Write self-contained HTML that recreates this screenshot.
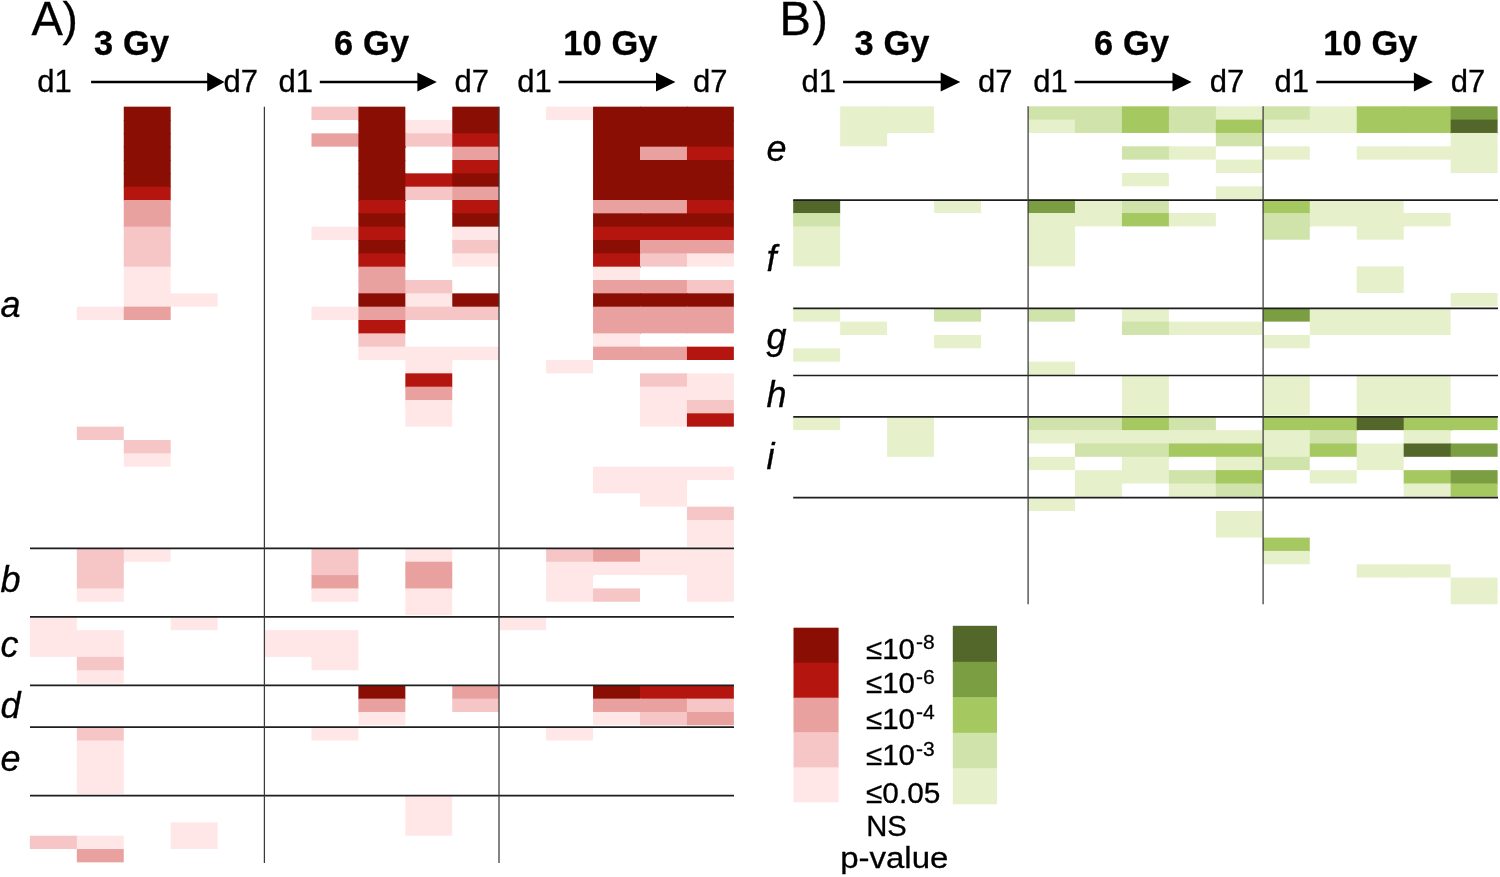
<!DOCTYPE html>
<html><head><meta charset="utf-8"><title>Figure</title>
<style>
html,body{margin:0;padding:0;background:#fff;}
svg{display:block;will-change:transform;font-family:"Liberation Sans",sans-serif;fill:#000;}
text{stroke:#000;stroke-width:0.3px;}
</style></head><body>
<svg width="1500" height="877" viewBox="0 0 1500 877" shape-rendering="auto">
<rect x="0" y="0" width="1500" height="877" fill="#ffffff"/>
<rect x="123.76" y="106.67" width="46.93" height="14.13" fill="#8b0e04"/>
<rect x="311.48" y="106.67" width="47.73" height="13.33" fill="#f5c6c5"/>
<rect x="358.41" y="106.67" width="46.93" height="14.13" fill="#8b0e04"/>
<rect x="452.27" y="106.67" width="46.93" height="14.13" fill="#8b0e04"/>
<rect x="546.13" y="106.67" width="47.73" height="13.33" fill="#fee7e6"/>
<rect x="593.06" y="106.67" width="47.73" height="14.13" fill="#8b0e04"/>
<rect x="639.99" y="106.67" width="47.73" height="14.13" fill="#8b0e04"/>
<rect x="686.92" y="106.67" width="46.93" height="14.13" fill="#8b0e04"/>
<rect x="123.76" y="120.00" width="46.93" height="14.13" fill="#8b0e04"/>
<rect x="358.41" y="120.00" width="47.73" height="14.13" fill="#8b0e04"/>
<rect x="405.34" y="120.00" width="47.73" height="14.13" fill="#fee7e6"/>
<rect x="452.27" y="120.00" width="46.93" height="14.13" fill="#8b0e04"/>
<rect x="593.06" y="120.00" width="47.73" height="14.13" fill="#8b0e04"/>
<rect x="639.99" y="120.00" width="47.73" height="14.13" fill="#8b0e04"/>
<rect x="686.92" y="120.00" width="46.93" height="14.13" fill="#8b0e04"/>
<rect x="123.76" y="133.34" width="46.93" height="14.13" fill="#8b0e04"/>
<rect x="311.48" y="133.34" width="47.73" height="13.33" fill="#e9a1a0"/>
<rect x="358.41" y="133.34" width="47.73" height="14.13" fill="#8b0e04"/>
<rect x="405.34" y="133.34" width="47.73" height="13.33" fill="#f5c6c5"/>
<rect x="452.27" y="133.34" width="46.93" height="14.13" fill="#b4160f"/>
<rect x="593.06" y="133.34" width="47.73" height="14.13" fill="#8b0e04"/>
<rect x="639.99" y="133.34" width="47.73" height="14.13" fill="#8b0e04"/>
<rect x="686.92" y="133.34" width="46.93" height="14.13" fill="#8b0e04"/>
<rect x="123.76" y="146.67" width="46.93" height="14.13" fill="#8b0e04"/>
<rect x="358.41" y="146.67" width="46.93" height="14.13" fill="#8b0e04"/>
<rect x="452.27" y="146.67" width="46.93" height="14.13" fill="#e9a1a0"/>
<rect x="593.06" y="146.67" width="47.73" height="14.13" fill="#8b0e04"/>
<rect x="639.99" y="146.67" width="47.73" height="14.13" fill="#e9a1a0"/>
<rect x="686.92" y="146.67" width="46.93" height="14.13" fill="#b4160f"/>
<rect x="123.76" y="160.00" width="46.93" height="14.13" fill="#8b0e04"/>
<rect x="358.41" y="160.00" width="46.93" height="14.13" fill="#8b0e04"/>
<rect x="452.27" y="160.00" width="46.93" height="14.13" fill="#b4160f"/>
<rect x="593.06" y="160.00" width="47.73" height="14.13" fill="#8b0e04"/>
<rect x="639.99" y="160.00" width="47.73" height="14.13" fill="#8b0e04"/>
<rect x="686.92" y="160.00" width="46.93" height="14.13" fill="#8b0e04"/>
<rect x="123.76" y="173.34" width="46.93" height="14.13" fill="#8b0e04"/>
<rect x="358.41" y="173.34" width="47.73" height="14.13" fill="#8b0e04"/>
<rect x="405.34" y="173.34" width="47.73" height="14.13" fill="#b4160f"/>
<rect x="452.27" y="173.34" width="46.93" height="14.13" fill="#8b0e04"/>
<rect x="593.06" y="173.34" width="47.73" height="14.13" fill="#8b0e04"/>
<rect x="639.99" y="173.34" width="47.73" height="14.13" fill="#8b0e04"/>
<rect x="686.92" y="173.34" width="46.93" height="14.13" fill="#8b0e04"/>
<rect x="123.76" y="186.67" width="46.93" height="14.13" fill="#b4160f"/>
<rect x="358.41" y="186.67" width="47.73" height="14.13" fill="#8b0e04"/>
<rect x="405.34" y="186.67" width="47.73" height="13.33" fill="#f5c6c5"/>
<rect x="452.27" y="186.67" width="46.93" height="14.13" fill="#e9a1a0"/>
<rect x="593.06" y="186.67" width="47.73" height="14.13" fill="#8b0e04"/>
<rect x="639.99" y="186.67" width="47.73" height="14.13" fill="#8b0e04"/>
<rect x="686.92" y="186.67" width="46.93" height="14.13" fill="#8b0e04"/>
<rect x="123.76" y="200.00" width="46.93" height="14.13" fill="#e9a1a0"/>
<rect x="358.41" y="200.00" width="46.93" height="14.13" fill="#b4160f"/>
<rect x="452.27" y="200.00" width="46.93" height="14.13" fill="#b4160f"/>
<rect x="593.06" y="200.00" width="47.73" height="14.13" fill="#e9a1a0"/>
<rect x="639.99" y="200.00" width="47.73" height="14.13" fill="#e9a1a0"/>
<rect x="686.92" y="200.00" width="46.93" height="14.13" fill="#b4160f"/>
<rect x="123.76" y="213.34" width="46.93" height="14.13" fill="#e9a1a0"/>
<rect x="358.41" y="213.34" width="46.93" height="14.13" fill="#8b0e04"/>
<rect x="452.27" y="213.34" width="46.93" height="14.13" fill="#8b0e04"/>
<rect x="593.06" y="213.34" width="47.73" height="14.13" fill="#8b0e04"/>
<rect x="639.99" y="213.34" width="47.73" height="14.13" fill="#8b0e04"/>
<rect x="686.92" y="213.34" width="46.93" height="14.13" fill="#8b0e04"/>
<rect x="123.76" y="226.67" width="46.93" height="14.13" fill="#f5c6c5"/>
<rect x="311.48" y="226.67" width="47.73" height="13.33" fill="#fee7e6"/>
<rect x="358.41" y="226.67" width="46.93" height="14.13" fill="#b4160f"/>
<rect x="452.27" y="226.67" width="46.93" height="14.13" fill="#fee7e6"/>
<rect x="593.06" y="226.67" width="47.73" height="14.13" fill="#b4160f"/>
<rect x="639.99" y="226.67" width="47.73" height="14.13" fill="#b4160f"/>
<rect x="686.92" y="226.67" width="46.93" height="14.13" fill="#b4160f"/>
<rect x="123.76" y="240.00" width="46.93" height="14.13" fill="#f5c6c5"/>
<rect x="358.41" y="240.00" width="46.93" height="14.13" fill="#8b0e04"/>
<rect x="452.27" y="240.00" width="46.93" height="14.13" fill="#f5c6c5"/>
<rect x="593.06" y="240.00" width="47.73" height="14.13" fill="#8b0e04"/>
<rect x="639.99" y="240.00" width="47.73" height="14.13" fill="#e9a1a0"/>
<rect x="686.92" y="240.00" width="46.93" height="14.13" fill="#e9a1a0"/>
<rect x="123.76" y="253.34" width="46.93" height="14.13" fill="#f5c6c5"/>
<rect x="358.41" y="253.34" width="46.93" height="14.13" fill="#b4160f"/>
<rect x="452.27" y="253.34" width="46.93" height="13.33" fill="#fee7e6"/>
<rect x="593.06" y="253.34" width="47.73" height="14.13" fill="#b4160f"/>
<rect x="639.99" y="253.34" width="47.73" height="13.33" fill="#f5c6c5"/>
<rect x="686.92" y="253.34" width="46.93" height="13.33" fill="#fee7e6"/>
<rect x="123.76" y="266.67" width="46.93" height="14.13" fill="#fee7e6"/>
<rect x="358.41" y="266.67" width="46.93" height="14.13" fill="#e9a1a0"/>
<rect x="593.06" y="266.67" width="46.93" height="14.13" fill="#fee7e6"/>
<rect x="123.76" y="280.00" width="46.93" height="14.13" fill="#fee7e6"/>
<rect x="358.41" y="280.00" width="47.73" height="14.13" fill="#e9a1a0"/>
<rect x="405.34" y="280.00" width="46.93" height="14.13" fill="#f5c6c5"/>
<rect x="593.06" y="280.00" width="47.73" height="14.13" fill="#e9a1a0"/>
<rect x="639.99" y="280.00" width="47.73" height="14.13" fill="#e9a1a0"/>
<rect x="686.92" y="280.00" width="46.93" height="14.13" fill="#f5c6c5"/>
<rect x="123.76" y="293.34" width="47.73" height="14.13" fill="#fee7e6"/>
<rect x="170.69" y="293.34" width="46.93" height="13.33" fill="#fee7e6"/>
<rect x="358.41" y="293.34" width="47.73" height="14.13" fill="#8b0e04"/>
<rect x="405.34" y="293.34" width="47.73" height="14.13" fill="#fee7e6"/>
<rect x="452.27" y="293.34" width="46.93" height="14.13" fill="#8b0e04"/>
<rect x="593.06" y="293.34" width="47.73" height="14.13" fill="#8b0e04"/>
<rect x="639.99" y="293.34" width="47.73" height="14.13" fill="#8b0e04"/>
<rect x="686.92" y="293.34" width="46.93" height="14.13" fill="#8b0e04"/>
<rect x="76.83" y="306.67" width="47.73" height="13.33" fill="#fee7e6"/>
<rect x="123.76" y="306.67" width="46.93" height="13.33" fill="#e9a1a0"/>
<rect x="311.48" y="306.67" width="47.73" height="13.33" fill="#fee7e6"/>
<rect x="358.41" y="306.67" width="47.73" height="14.13" fill="#e9a1a0"/>
<rect x="405.34" y="306.67" width="47.73" height="13.33" fill="#f5c6c5"/>
<rect x="452.27" y="306.67" width="46.93" height="13.33" fill="#f5c6c5"/>
<rect x="593.06" y="306.67" width="47.73" height="14.13" fill="#e9a1a0"/>
<rect x="639.99" y="306.67" width="47.73" height="14.13" fill="#e9a1a0"/>
<rect x="686.92" y="306.67" width="46.93" height="14.13" fill="#e9a1a0"/>
<rect x="358.41" y="320.00" width="46.93" height="14.13" fill="#b4160f"/>
<rect x="593.06" y="320.00" width="47.73" height="14.13" fill="#e9a1a0"/>
<rect x="639.99" y="320.00" width="47.73" height="13.33" fill="#e9a1a0"/>
<rect x="686.92" y="320.00" width="46.93" height="13.33" fill="#e9a1a0"/>
<rect x="358.41" y="333.34" width="46.93" height="14.13" fill="#f5c6c5"/>
<rect x="593.06" y="333.34" width="46.93" height="14.13" fill="#fee7e6"/>
<rect x="358.41" y="346.67" width="47.73" height="13.33" fill="#fee7e6"/>
<rect x="405.34" y="346.67" width="47.73" height="14.13" fill="#fee7e6"/>
<rect x="452.27" y="346.67" width="46.93" height="13.33" fill="#fee7e6"/>
<rect x="593.06" y="346.67" width="47.73" height="13.33" fill="#e9a1a0"/>
<rect x="639.99" y="346.67" width="47.73" height="13.33" fill="#e9a1a0"/>
<rect x="686.92" y="346.67" width="46.93" height="13.33" fill="#b4160f"/>
<rect x="405.34" y="360.00" width="46.93" height="14.13" fill="#fee7e6"/>
<rect x="546.13" y="360.00" width="46.93" height="13.33" fill="#fee7e6"/>
<rect x="405.34" y="373.34" width="46.93" height="14.13" fill="#b4160f"/>
<rect x="639.99" y="373.34" width="47.73" height="14.13" fill="#f5c6c5"/>
<rect x="686.92" y="373.34" width="46.93" height="14.13" fill="#fee7e6"/>
<rect x="405.34" y="386.67" width="46.93" height="14.13" fill="#e9a1a0"/>
<rect x="639.99" y="386.67" width="47.73" height="14.13" fill="#fee7e6"/>
<rect x="686.92" y="386.67" width="46.93" height="14.13" fill="#fee7e6"/>
<rect x="405.34" y="400.00" width="46.93" height="14.13" fill="#fee7e6"/>
<rect x="639.99" y="400.00" width="47.73" height="14.13" fill="#fee7e6"/>
<rect x="686.92" y="400.00" width="46.93" height="14.13" fill="#f5c6c5"/>
<rect x="405.34" y="413.34" width="46.93" height="13.33" fill="#fee7e6"/>
<rect x="639.99" y="413.34" width="47.73" height="13.33" fill="#fee7e6"/>
<rect x="686.92" y="413.34" width="46.93" height="13.33" fill="#b4160f"/>
<rect x="76.83" y="426.67" width="46.93" height="13.33" fill="#f5c6c5"/>
<rect x="123.76" y="440.00" width="46.93" height="14.13" fill="#f5c6c5"/>
<rect x="123.76" y="453.34" width="46.93" height="13.33" fill="#fee7e6"/>
<rect x="593.06" y="466.67" width="47.73" height="14.13" fill="#fee7e6"/>
<rect x="639.99" y="466.67" width="47.73" height="14.13" fill="#fee7e6"/>
<rect x="686.92" y="466.67" width="46.93" height="13.33" fill="#fee7e6"/>
<rect x="593.06" y="480.00" width="47.73" height="13.33" fill="#fee7e6"/>
<rect x="639.99" y="480.00" width="46.93" height="14.13" fill="#fee7e6"/>
<rect x="639.99" y="493.34" width="46.93" height="13.33" fill="#fee7e6"/>
<rect x="686.92" y="506.67" width="46.93" height="14.13" fill="#f5c6c5"/>
<rect x="686.92" y="520.00" width="46.93" height="14.13" fill="#fee7e6"/>
<rect x="686.92" y="533.34" width="46.93" height="13.33" fill="#fee7e6"/>
<rect x="76.83" y="548.40" width="47.73" height="14.13" fill="#f5c6c5"/>
<rect x="123.76" y="548.40" width="46.93" height="13.33" fill="#fee7e6"/>
<rect x="311.48" y="548.40" width="46.93" height="14.13" fill="#f5c6c5"/>
<rect x="405.34" y="548.40" width="46.93" height="14.13" fill="#fee7e6"/>
<rect x="546.13" y="548.40" width="47.73" height="14.13" fill="#f5c6c5"/>
<rect x="593.06" y="548.40" width="47.73" height="14.13" fill="#e9a1a0"/>
<rect x="639.99" y="548.40" width="47.73" height="14.13" fill="#fee7e6"/>
<rect x="686.92" y="548.40" width="46.93" height="14.13" fill="#fee7e6"/>
<rect x="76.83" y="561.73" width="46.93" height="14.13" fill="#f5c6c5"/>
<rect x="311.48" y="561.73" width="46.93" height="14.13" fill="#f5c6c5"/>
<rect x="405.34" y="561.73" width="46.93" height="14.13" fill="#e9a1a0"/>
<rect x="546.13" y="561.73" width="47.73" height="14.13" fill="#fee7e6"/>
<rect x="593.06" y="561.73" width="47.73" height="13.33" fill="#fee7e6"/>
<rect x="639.99" y="561.73" width="47.73" height="13.33" fill="#fee7e6"/>
<rect x="686.92" y="561.73" width="46.93" height="14.13" fill="#fee7e6"/>
<rect x="76.83" y="575.07" width="46.93" height="14.13" fill="#f5c6c5"/>
<rect x="311.48" y="575.07" width="46.93" height="14.13" fill="#e9a1a0"/>
<rect x="405.34" y="575.07" width="46.93" height="14.13" fill="#e9a1a0"/>
<rect x="546.13" y="575.07" width="46.93" height="14.13" fill="#fee7e6"/>
<rect x="686.92" y="575.07" width="46.93" height="14.13" fill="#fee7e6"/>
<rect x="76.83" y="588.40" width="46.93" height="13.33" fill="#fee7e6"/>
<rect x="311.48" y="588.40" width="46.93" height="13.33" fill="#fee7e6"/>
<rect x="405.34" y="588.40" width="46.93" height="14.13" fill="#fee7e6"/>
<rect x="546.13" y="588.40" width="47.73" height="13.33" fill="#fee7e6"/>
<rect x="593.06" y="588.40" width="46.93" height="13.33" fill="#f5c6c5"/>
<rect x="686.92" y="588.40" width="46.93" height="13.33" fill="#fee7e6"/>
<rect x="405.34" y="601.73" width="46.93" height="13.33" fill="#fee7e6"/>
<rect x="29.90" y="616.90" width="46.93" height="14.13" fill="#fee7e6"/>
<rect x="170.69" y="616.90" width="46.93" height="13.33" fill="#fee7e6"/>
<rect x="499.20" y="616.90" width="46.93" height="13.33" fill="#fee7e6"/>
<rect x="29.90" y="630.23" width="47.73" height="14.13" fill="#fee7e6"/>
<rect x="76.83" y="630.23" width="46.93" height="14.13" fill="#fee7e6"/>
<rect x="264.55" y="630.23" width="47.73" height="14.13" fill="#fee7e6"/>
<rect x="311.48" y="630.23" width="46.93" height="14.13" fill="#fee7e6"/>
<rect x="29.90" y="643.57" width="47.73" height="13.33" fill="#fee7e6"/>
<rect x="76.83" y="643.57" width="46.93" height="14.13" fill="#fee7e6"/>
<rect x="264.55" y="643.57" width="47.73" height="13.33" fill="#fee7e6"/>
<rect x="311.48" y="643.57" width="46.93" height="14.13" fill="#fee7e6"/>
<rect x="76.83" y="656.90" width="46.93" height="14.13" fill="#f5c6c5"/>
<rect x="311.48" y="656.90" width="46.93" height="13.33" fill="#fee7e6"/>
<rect x="76.83" y="670.23" width="46.93" height="13.33" fill="#fee7e6"/>
<rect x="358.41" y="685.30" width="46.93" height="14.13" fill="#8b0e04"/>
<rect x="452.27" y="685.30" width="46.93" height="14.13" fill="#e9a1a0"/>
<rect x="593.06" y="685.30" width="47.73" height="14.13" fill="#8b0e04"/>
<rect x="639.99" y="685.30" width="47.73" height="14.13" fill="#b4160f"/>
<rect x="686.92" y="685.30" width="46.93" height="14.13" fill="#b4160f"/>
<rect x="358.41" y="698.63" width="46.93" height="14.13" fill="#e9a1a0"/>
<rect x="452.27" y="698.63" width="46.93" height="13.33" fill="#f5c6c5"/>
<rect x="593.06" y="698.63" width="47.73" height="14.13" fill="#e9a1a0"/>
<rect x="639.99" y="698.63" width="47.73" height="14.13" fill="#e9a1a0"/>
<rect x="686.92" y="698.63" width="46.93" height="14.13" fill="#f5c6c5"/>
<rect x="358.41" y="711.97" width="46.93" height="13.33" fill="#fee7e6"/>
<rect x="593.06" y="711.97" width="47.73" height="13.33" fill="#fee7e6"/>
<rect x="639.99" y="711.97" width="47.73" height="13.33" fill="#f5c6c5"/>
<rect x="686.92" y="711.97" width="46.93" height="13.33" fill="#e9a1a0"/>
<rect x="76.83" y="727.20" width="46.93" height="14.13" fill="#f5c6c5"/>
<rect x="311.48" y="727.20" width="46.93" height="13.33" fill="#fee7e6"/>
<rect x="546.13" y="727.20" width="46.93" height="13.33" fill="#fee7e6"/>
<rect x="76.83" y="740.53" width="46.93" height="14.13" fill="#fee7e6"/>
<rect x="76.83" y="753.87" width="46.93" height="14.13" fill="#fee7e6"/>
<rect x="76.83" y="767.20" width="46.93" height="14.13" fill="#fee7e6"/>
<rect x="76.83" y="780.53" width="46.93" height="13.33" fill="#fee7e6"/>
<rect x="405.34" y="795.70" width="46.93" height="14.13" fill="#fee7e6"/>
<rect x="405.34" y="809.03" width="46.93" height="14.13" fill="#fee7e6"/>
<rect x="170.69" y="822.37" width="46.93" height="14.13" fill="#fee7e6"/>
<rect x="405.34" y="822.37" width="46.93" height="13.33" fill="#fee7e6"/>
<rect x="29.90" y="835.70" width="47.73" height="13.33" fill="#f5c6c5"/>
<rect x="76.83" y="835.70" width="46.93" height="14.13" fill="#fee7e6"/>
<rect x="170.69" y="835.70" width="46.93" height="13.33" fill="#fee7e6"/>
<rect x="76.83" y="849.03" width="46.93" height="13.33" fill="#e9a1a0"/>
<rect x="840.16" y="106.30" width="47.76" height="14.13" fill="#e6f1cb"/>
<rect x="887.12" y="106.30" width="46.96" height="14.13" fill="#e6f1cb"/>
<rect x="1028.00" y="106.30" width="47.76" height="14.13" fill="#cfe3aa"/>
<rect x="1074.96" y="106.30" width="47.76" height="14.13" fill="#cfe3aa"/>
<rect x="1121.92" y="106.30" width="47.76" height="14.13" fill="#a6c861"/>
<rect x="1168.88" y="106.30" width="47.76" height="14.13" fill="#cfe3aa"/>
<rect x="1215.84" y="106.30" width="47.76" height="14.13" fill="#e6f1cb"/>
<rect x="1262.80" y="106.30" width="47.76" height="14.13" fill="#cfe3aa"/>
<rect x="1309.76" y="106.30" width="47.76" height="14.13" fill="#e6f1cb"/>
<rect x="1356.72" y="106.30" width="47.76" height="14.13" fill="#a6c861"/>
<rect x="1403.68" y="106.30" width="47.76" height="14.13" fill="#a6c861"/>
<rect x="1450.64" y="106.30" width="46.96" height="14.13" fill="#7b9e43"/>
<rect x="840.16" y="119.63" width="47.76" height="14.13" fill="#e6f1cb"/>
<rect x="887.12" y="119.63" width="46.96" height="13.33" fill="#e6f1cb"/>
<rect x="1028.00" y="119.63" width="47.76" height="13.33" fill="#e6f1cb"/>
<rect x="1074.96" y="119.63" width="47.76" height="13.33" fill="#cfe3aa"/>
<rect x="1121.92" y="119.63" width="47.76" height="13.33" fill="#a6c861"/>
<rect x="1168.88" y="119.63" width="47.76" height="13.33" fill="#cfe3aa"/>
<rect x="1215.84" y="119.63" width="47.76" height="14.13" fill="#a6c861"/>
<rect x="1262.80" y="119.63" width="47.76" height="13.33" fill="#e6f1cb"/>
<rect x="1309.76" y="119.63" width="47.76" height="13.33" fill="#e6f1cb"/>
<rect x="1356.72" y="119.63" width="47.76" height="13.33" fill="#a6c861"/>
<rect x="1403.68" y="119.63" width="47.76" height="13.33" fill="#a6c861"/>
<rect x="1450.64" y="119.63" width="46.96" height="14.13" fill="#53672a"/>
<rect x="840.16" y="132.97" width="46.96" height="13.33" fill="#e6f1cb"/>
<rect x="1215.84" y="132.97" width="46.96" height="13.33" fill="#cfe3aa"/>
<rect x="1450.64" y="132.97" width="46.96" height="14.13" fill="#e6f1cb"/>
<rect x="1121.92" y="146.30" width="47.76" height="13.33" fill="#cfe3aa"/>
<rect x="1168.88" y="146.30" width="46.96" height="13.33" fill="#e6f1cb"/>
<rect x="1262.80" y="146.30" width="46.96" height="13.33" fill="#e6f1cb"/>
<rect x="1356.72" y="146.30" width="47.76" height="13.33" fill="#e6f1cb"/>
<rect x="1403.68" y="146.30" width="47.76" height="13.33" fill="#e6f1cb"/>
<rect x="1450.64" y="146.30" width="46.96" height="14.13" fill="#e6f1cb"/>
<rect x="1215.84" y="159.63" width="46.96" height="13.33" fill="#e6f1cb"/>
<rect x="1450.64" y="159.63" width="46.96" height="13.33" fill="#e6f1cb"/>
<rect x="1121.92" y="172.97" width="46.96" height="13.33" fill="#e6f1cb"/>
<rect x="1215.84" y="186.30" width="46.96" height="13.33" fill="#e6f1cb"/>
<rect x="793.20" y="199.70" width="46.96" height="14.13" fill="#53672a"/>
<rect x="934.08" y="199.70" width="46.96" height="13.33" fill="#e6f1cb"/>
<rect x="1028.00" y="199.70" width="47.76" height="14.13" fill="#7b9e43"/>
<rect x="1074.96" y="199.70" width="47.76" height="14.13" fill="#e6f1cb"/>
<rect x="1121.92" y="199.70" width="46.96" height="14.13" fill="#cfe3aa"/>
<rect x="1262.80" y="199.70" width="47.76" height="14.13" fill="#a6c861"/>
<rect x="1309.76" y="199.70" width="47.76" height="14.13" fill="#e6f1cb"/>
<rect x="1356.72" y="199.70" width="46.96" height="14.13" fill="#e6f1cb"/>
<rect x="793.20" y="213.03" width="46.96" height="14.13" fill="#cfe3aa"/>
<rect x="1028.00" y="213.03" width="47.76" height="14.13" fill="#e6f1cb"/>
<rect x="1074.96" y="213.03" width="47.76" height="13.33" fill="#e6f1cb"/>
<rect x="1121.92" y="213.03" width="47.76" height="13.33" fill="#a6c861"/>
<rect x="1168.88" y="213.03" width="46.96" height="13.33" fill="#e6f1cb"/>
<rect x="1262.80" y="213.03" width="47.76" height="14.13" fill="#cfe3aa"/>
<rect x="1309.76" y="213.03" width="47.76" height="13.33" fill="#e6f1cb"/>
<rect x="1356.72" y="213.03" width="47.76" height="14.13" fill="#e6f1cb"/>
<rect x="1403.68" y="213.03" width="46.96" height="13.33" fill="#e6f1cb"/>
<rect x="793.20" y="226.37" width="46.96" height="14.13" fill="#e6f1cb"/>
<rect x="1028.00" y="226.37" width="46.96" height="14.13" fill="#e6f1cb"/>
<rect x="1262.80" y="226.37" width="46.96" height="13.33" fill="#cfe3aa"/>
<rect x="1356.72" y="226.37" width="46.96" height="13.33" fill="#e6f1cb"/>
<rect x="793.20" y="239.70" width="46.96" height="14.13" fill="#e6f1cb"/>
<rect x="1028.00" y="239.70" width="46.96" height="14.13" fill="#e6f1cb"/>
<rect x="793.20" y="253.03" width="46.96" height="13.33" fill="#e6f1cb"/>
<rect x="1028.00" y="253.03" width="46.96" height="13.33" fill="#e6f1cb"/>
<rect x="1356.72" y="266.37" width="46.96" height="14.13" fill="#e6f1cb"/>
<rect x="1356.72" y="279.70" width="46.96" height="13.33" fill="#e6f1cb"/>
<rect x="1450.64" y="293.03" width="46.96" height="13.33" fill="#e6f1cb"/>
<rect x="793.20" y="308.30" width="46.96" height="13.33" fill="#e6f1cb"/>
<rect x="934.08" y="308.30" width="46.96" height="13.33" fill="#cfe3aa"/>
<rect x="1028.00" y="308.30" width="46.96" height="13.33" fill="#cfe3aa"/>
<rect x="1121.92" y="308.30" width="46.96" height="14.13" fill="#e6f1cb"/>
<rect x="1262.80" y="308.30" width="47.76" height="13.33" fill="#7b9e43"/>
<rect x="1309.76" y="308.30" width="47.76" height="14.13" fill="#e6f1cb"/>
<rect x="1356.72" y="308.30" width="47.76" height="14.13" fill="#e6f1cb"/>
<rect x="1403.68" y="308.30" width="46.96" height="14.13" fill="#e6f1cb"/>
<rect x="840.16" y="321.63" width="46.96" height="13.33" fill="#e6f1cb"/>
<rect x="1121.92" y="321.63" width="47.76" height="13.33" fill="#cfe3aa"/>
<rect x="1168.88" y="321.63" width="47.76" height="13.33" fill="#e6f1cb"/>
<rect x="1215.84" y="321.63" width="46.96" height="13.33" fill="#e6f1cb"/>
<rect x="1309.76" y="321.63" width="47.76" height="13.33" fill="#e6f1cb"/>
<rect x="1356.72" y="321.63" width="47.76" height="13.33" fill="#e6f1cb"/>
<rect x="1403.68" y="321.63" width="46.96" height="13.33" fill="#e6f1cb"/>
<rect x="934.08" y="334.97" width="46.96" height="13.33" fill="#e6f1cb"/>
<rect x="1262.80" y="334.97" width="46.96" height="13.33" fill="#e6f1cb"/>
<rect x="793.20" y="348.30" width="46.96" height="13.33" fill="#e6f1cb"/>
<rect x="1028.00" y="361.63" width="46.96" height="13.33" fill="#e6f1cb"/>
<rect x="1121.92" y="375.50" width="46.96" height="14.13" fill="#e6f1cb"/>
<rect x="1262.80" y="375.50" width="46.96" height="14.13" fill="#e6f1cb"/>
<rect x="1356.72" y="375.50" width="47.76" height="14.13" fill="#e6f1cb"/>
<rect x="1403.68" y="375.50" width="46.96" height="14.13" fill="#e6f1cb"/>
<rect x="1121.92" y="388.83" width="46.96" height="14.13" fill="#e6f1cb"/>
<rect x="1262.80" y="388.83" width="46.96" height="14.13" fill="#e6f1cb"/>
<rect x="1356.72" y="388.83" width="47.76" height="14.13" fill="#e6f1cb"/>
<rect x="1403.68" y="388.83" width="46.96" height="14.13" fill="#e6f1cb"/>
<rect x="1121.92" y="402.17" width="46.96" height="13.33" fill="#e6f1cb"/>
<rect x="1262.80" y="402.17" width="46.96" height="13.33" fill="#e6f1cb"/>
<rect x="1356.72" y="402.17" width="47.76" height="13.33" fill="#e6f1cb"/>
<rect x="1403.68" y="402.17" width="46.96" height="13.33" fill="#e6f1cb"/>
<rect x="793.20" y="416.80" width="46.96" height="13.33" fill="#e6f1cb"/>
<rect x="887.12" y="416.80" width="46.96" height="14.13" fill="#e6f1cb"/>
<rect x="1028.00" y="416.80" width="47.76" height="14.13" fill="#cfe3aa"/>
<rect x="1074.96" y="416.80" width="47.76" height="14.13" fill="#cfe3aa"/>
<rect x="1121.92" y="416.80" width="47.76" height="14.13" fill="#a6c861"/>
<rect x="1168.88" y="416.80" width="46.96" height="14.13" fill="#cfe3aa"/>
<rect x="1262.80" y="416.80" width="47.76" height="14.13" fill="#a6c861"/>
<rect x="1309.76" y="416.80" width="47.76" height="14.13" fill="#a6c861"/>
<rect x="1356.72" y="416.80" width="47.76" height="13.33" fill="#53672a"/>
<rect x="1403.68" y="416.80" width="47.76" height="14.13" fill="#a6c861"/>
<rect x="1450.64" y="416.80" width="46.96" height="13.33" fill="#a6c861"/>
<rect x="887.12" y="430.13" width="46.96" height="14.13" fill="#e6f1cb"/>
<rect x="1028.00" y="430.13" width="47.76" height="13.33" fill="#e6f1cb"/>
<rect x="1074.96" y="430.13" width="47.76" height="14.13" fill="#e6f1cb"/>
<rect x="1121.92" y="430.13" width="47.76" height="14.13" fill="#e6f1cb"/>
<rect x="1168.88" y="430.13" width="47.76" height="14.13" fill="#e6f1cb"/>
<rect x="1215.84" y="430.13" width="47.76" height="14.13" fill="#e6f1cb"/>
<rect x="1262.80" y="430.13" width="47.76" height="14.13" fill="#e6f1cb"/>
<rect x="1309.76" y="430.13" width="46.96" height="14.13" fill="#cfe3aa"/>
<rect x="1403.68" y="430.13" width="46.96" height="14.13" fill="#e6f1cb"/>
<rect x="887.12" y="443.47" width="46.96" height="13.33" fill="#e6f1cb"/>
<rect x="1074.96" y="443.47" width="47.76" height="13.33" fill="#cfe3aa"/>
<rect x="1121.92" y="443.47" width="47.76" height="14.13" fill="#cfe3aa"/>
<rect x="1168.88" y="443.47" width="47.76" height="13.33" fill="#a6c861"/>
<rect x="1215.84" y="443.47" width="47.76" height="14.13" fill="#a6c861"/>
<rect x="1262.80" y="443.47" width="47.76" height="14.13" fill="#e6f1cb"/>
<rect x="1309.76" y="443.47" width="47.76" height="13.33" fill="#a6c861"/>
<rect x="1356.72" y="443.47" width="47.76" height="14.13" fill="#e6f1cb"/>
<rect x="1403.68" y="443.47" width="47.76" height="13.33" fill="#53672a"/>
<rect x="1450.64" y="443.47" width="46.96" height="13.33" fill="#7b9e43"/>
<rect x="1028.00" y="456.80" width="46.96" height="13.33" fill="#e6f1cb"/>
<rect x="1121.92" y="456.80" width="46.96" height="14.13" fill="#e6f1cb"/>
<rect x="1215.84" y="456.80" width="47.76" height="14.13" fill="#e6f1cb"/>
<rect x="1262.80" y="456.80" width="46.96" height="13.33" fill="#cfe3aa"/>
<rect x="1356.72" y="456.80" width="46.96" height="13.33" fill="#e6f1cb"/>
<rect x="1074.96" y="470.13" width="47.76" height="14.13" fill="#e6f1cb"/>
<rect x="1121.92" y="470.13" width="47.76" height="13.33" fill="#e6f1cb"/>
<rect x="1168.88" y="470.13" width="47.76" height="14.13" fill="#cfe3aa"/>
<rect x="1215.84" y="470.13" width="46.96" height="14.13" fill="#a6c861"/>
<rect x="1309.76" y="470.13" width="46.96" height="13.33" fill="#e6f1cb"/>
<rect x="1403.68" y="470.13" width="47.76" height="14.13" fill="#a6c861"/>
<rect x="1450.64" y="470.13" width="46.96" height="14.13" fill="#7b9e43"/>
<rect x="1074.96" y="483.47" width="46.96" height="13.33" fill="#e6f1cb"/>
<rect x="1168.88" y="483.47" width="47.76" height="13.33" fill="#e6f1cb"/>
<rect x="1215.84" y="483.47" width="46.96" height="13.33" fill="#cfe3aa"/>
<rect x="1403.68" y="483.47" width="47.76" height="13.33" fill="#e6f1cb"/>
<rect x="1450.64" y="483.47" width="46.96" height="13.33" fill="#a6c861"/>
<rect x="1028.00" y="497.60" width="46.96" height="13.33" fill="#e6f1cb"/>
<rect x="1215.84" y="510.93" width="46.96" height="14.13" fill="#e6f1cb"/>
<rect x="1215.84" y="524.27" width="46.96" height="13.33" fill="#e6f1cb"/>
<rect x="1262.80" y="537.60" width="46.96" height="14.13" fill="#a6c861"/>
<rect x="1262.80" y="550.93" width="46.96" height="13.33" fill="#e6f1cb"/>
<rect x="1356.72" y="564.27" width="47.76" height="13.33" fill="#e6f1cb"/>
<rect x="1403.68" y="564.27" width="46.96" height="13.33" fill="#e6f1cb"/>
<rect x="1450.64" y="577.60" width="46.96" height="14.13" fill="#e6f1cb"/>
<rect x="1450.64" y="590.93" width="46.96" height="13.33" fill="#e6f1cb"/>
<line x1="30" y1="548.4" x2="734" y2="548.4" stroke="#1e1e1e" stroke-width="1.7"/>
<line x1="30" y1="616.9" x2="734" y2="616.9" stroke="#1e1e1e" stroke-width="1.7"/>
<line x1="30" y1="685.4" x2="734" y2="685.4" stroke="#1e1e1e" stroke-width="1.7"/>
<line x1="30" y1="727.2" x2="734" y2="727.2" stroke="#1e1e1e" stroke-width="1.7"/>
<line x1="30" y1="795.7" x2="734" y2="795.7" stroke="#1e1e1e" stroke-width="1.7"/>
<line x1="264.4" y1="106.7" x2="264.4" y2="863" stroke="#3a3a3a" stroke-width="1.25"/>
<line x1="499.0" y1="106.7" x2="499.0" y2="863" stroke="#3a3a3a" stroke-width="1.25"/>
<line x1="793.2" y1="200.1" x2="1498" y2="200.1" stroke="#1e1e1e" stroke-width="1.7"/>
<line x1="793.2" y1="308.3" x2="1498" y2="308.3" stroke="#1e1e1e" stroke-width="1.7"/>
<line x1="793.2" y1="375.5" x2="1498" y2="375.5" stroke="#1e1e1e" stroke-width="1.7"/>
<line x1="793.2" y1="416.8" x2="1498" y2="416.8" stroke="#1e1e1e" stroke-width="1.7"/>
<line x1="793.2" y1="497.6" x2="1498" y2="497.6" stroke="#1e1e1e" stroke-width="1.7"/>
<line x1="1028.1" y1="106.3" x2="1028.1" y2="604.3" stroke="#3a3a3a" stroke-width="1.25"/>
<line x1="1263.1" y1="106.3" x2="1263.1" y2="604.3" stroke="#3a3a3a" stroke-width="1.25"/>
<text transform="translate(31.4,34.7) scale(1,1.04)" font-size="47" font-weight="normal" font-style="normal" text-anchor="start" letter-spacing="0">A</text>
<text transform="translate(62.6,34.7) scale(1,1)" font-size="46" font-weight="normal" font-style="normal" text-anchor="start" letter-spacing="0">)</text>
<text transform="translate(779.6,34.7) scale(1,1.04)" font-size="47" font-weight="normal" font-style="normal" text-anchor="start" letter-spacing="0">B</text>
<text transform="translate(812.6,34.7) scale(1,1)" font-size="46" font-weight="normal" font-style="normal" text-anchor="start" letter-spacing="0">)</text>
<text transform="translate(94.0,55.3) scale(1,1)" font-size="34.4" font-weight="bold" font-style="normal" text-anchor="start" letter-spacing="0.15">3 Gy</text>
<text transform="translate(334.0,55.3) scale(1,1)" font-size="34.4" font-weight="bold" font-style="normal" text-anchor="start" letter-spacing="0.15">6 Gy</text>
<text transform="translate(563.2,55.3) scale(1,1)" font-size="34.4" font-weight="bold" font-style="normal" text-anchor="start" letter-spacing="0.15">10 Gy</text>
<text transform="translate(854.4,55.3) scale(1,1)" font-size="34.4" font-weight="bold" font-style="normal" text-anchor="start" letter-spacing="0.15">3 Gy</text>
<text transform="translate(1094.0,55.3) scale(1,1)" font-size="34.4" font-weight="bold" font-style="normal" text-anchor="start" letter-spacing="0.15">6 Gy</text>
<text transform="translate(1323.2,55.3) scale(1,1)" font-size="34.4" font-weight="bold" font-style="normal" text-anchor="start" letter-spacing="0.15">10 Gy</text>
<text transform="translate(37.2,91.5) scale(1,1)" font-size="31" font-weight="normal" font-style="normal" text-anchor="start" letter-spacing="0">d1</text>
<text transform="translate(278.4,91.5) scale(1,1)" font-size="31" font-weight="normal" font-style="normal" text-anchor="start" letter-spacing="0">d1</text>
<text transform="translate(517.2,91.5) scale(1,1)" font-size="31" font-weight="normal" font-style="normal" text-anchor="start" letter-spacing="0">d1</text>
<text transform="translate(801.6,91.5) scale(1,1)" font-size="31" font-weight="normal" font-style="normal" text-anchor="start" letter-spacing="0">d1</text>
<text transform="translate(1033.2,91.5) scale(1,1)" font-size="31" font-weight="normal" font-style="normal" text-anchor="start" letter-spacing="0">d1</text>
<text transform="translate(1274.5,91.5) scale(1,1)" font-size="31" font-weight="normal" font-style="normal" text-anchor="start" letter-spacing="0">d1</text>
<text transform="translate(223.5,91.5) scale(1,1)" font-size="31" font-weight="normal" font-style="normal" text-anchor="start" letter-spacing="0">d7</text>
<text transform="translate(454.5,91.5) scale(1,1)" font-size="31" font-weight="normal" font-style="normal" text-anchor="start" letter-spacing="0">d7</text>
<text transform="translate(693.1,91.5) scale(1,1)" font-size="31" font-weight="normal" font-style="normal" text-anchor="start" letter-spacing="0">d7</text>
<text transform="translate(977.9,91.5) scale(1,1)" font-size="31" font-weight="normal" font-style="normal" text-anchor="start" letter-spacing="0">d7</text>
<text transform="translate(1209.7,91.5) scale(1,1)" font-size="31" font-weight="normal" font-style="normal" text-anchor="start" letter-spacing="0">d7</text>
<text transform="translate(1450.8,91.5) scale(1,1)" font-size="31" font-weight="normal" font-style="normal" text-anchor="start" letter-spacing="0">d7</text>
<line x1="91.1" y1="82.0" x2="209.2" y2="82.0" stroke="#000" stroke-width="2.7"/><polygon points="207.2,72.6 207.2,91.4 224.5,82.0" fill="#000"/>
<line x1="319.8" y1="82.0" x2="419.4" y2="82.0" stroke="#000" stroke-width="2.7"/><polygon points="417.4,72.6 417.4,91.4 436.8,82.0" fill="#000"/>
<line x1="558.6" y1="82.0" x2="658" y2="82.0" stroke="#000" stroke-width="2.7"/><polygon points="656,72.6 656,91.4 675.4,82.0" fill="#000"/>
<line x1="843.1" y1="82.0" x2="942.7" y2="82.0" stroke="#000" stroke-width="2.7"/><polygon points="940.7,72.6 940.7,91.4 960.3,82.0" fill="#000"/>
<line x1="1074.6" y1="82.0" x2="1174.5" y2="82.0" stroke="#000" stroke-width="2.7"/><polygon points="1172.5,72.6 1172.5,91.4 1191.6,82.0" fill="#000"/>
<line x1="1316.3" y1="82.0" x2="1415.9" y2="82.0" stroke="#000" stroke-width="2.7"/><polygon points="1413.9,72.6 1413.9,91.4 1432.9,82.0" fill="#000"/>
<text transform="translate(0.5,317.3) scale(1,1)" font-size="36" font-weight="normal" font-style="italic" text-anchor="start" letter-spacing="0">a</text>
<text transform="translate(0.5,592.2) scale(1,1)" font-size="36" font-weight="normal" font-style="italic" text-anchor="start" letter-spacing="0">b</text>
<text transform="translate(0.5,657.0) scale(1,1)" font-size="36" font-weight="normal" font-style="italic" text-anchor="start" letter-spacing="0">c</text>
<text transform="translate(0.5,718.0) scale(1,1)" font-size="36" font-weight="normal" font-style="italic" text-anchor="start" letter-spacing="0">d</text>
<text transform="translate(0.5,771.0) scale(1,1)" font-size="36" font-weight="normal" font-style="italic" text-anchor="start" letter-spacing="0">e</text>
<text transform="translate(766.5,160.6) scale(1,1)" font-size="36" font-weight="normal" font-style="italic" text-anchor="start" letter-spacing="0">e</text>
<text transform="translate(766.5,270.7) scale(1,1)" font-size="36" font-weight="normal" font-style="italic" text-anchor="start" letter-spacing="0">f</text>
<text transform="translate(766.5,349.1) scale(1,1)" font-size="36" font-weight="normal" font-style="italic" text-anchor="start" letter-spacing="0">g</text>
<text transform="translate(766.5,406.8) scale(1,1)" font-size="36" font-weight="normal" font-style="italic" text-anchor="start" letter-spacing="0">h</text>
<text transform="translate(766.5,469.4) scale(1,1)" font-size="36" font-weight="normal" font-style="italic" text-anchor="start" letter-spacing="0">i</text>
<rect x="793.5" y="627.7" width="45.1" height="35.30" fill="#8b0e04"/>
<rect x="952.8" y="625.8" width="44.2" height="36.30" fill="#53672a"/>
<rect x="793.5" y="662.7" width="45.1" height="35.30" fill="#b4160f"/>
<rect x="952.8" y="661.8" width="44.2" height="35.90" fill="#7b9e43"/>
<rect x="793.5" y="697.7" width="45.1" height="35.00" fill="#e9a1a0"/>
<rect x="952.8" y="697.4" width="44.2" height="35.70" fill="#a6c861"/>
<rect x="793.5" y="732.4" width="45.1" height="35.40" fill="#f5c6c5"/>
<rect x="952.8" y="732.8" width="44.2" height="35.90" fill="#cfe3aa"/>
<rect x="793.5" y="767.5" width="45.1" height="34.70" fill="#fee7e6"/>
<rect x="952.8" y="768.4" width="44.2" height="35.90" fill="#e6f1cb"/>
<text transform="translate(866,658.9) scale(1,0.98)" font-size="29.5">≤10<tspan dy="-9.6" dx="1" font-size="21">-8</tspan></text>
<text transform="translate(866,693.0) scale(1,0.98)" font-size="29.5">≤10<tspan dy="-9.6" dx="1" font-size="21">-6</tspan></text>
<text transform="translate(866,728.5) scale(1,0.98)" font-size="29.5">≤10<tspan dy="-9.6" dx="1" font-size="21">-4</tspan></text>
<text transform="translate(866,765.1) scale(1,0.98)" font-size="29.5">≤10<tspan dy="-9.6" dx="1" font-size="21">-3</tspan></text>
<text transform="translate(866,802.7) scale(1,0.99)" font-size="29.8" font-weight="normal" font-style="normal" text-anchor="start" letter-spacing="0">≤0.05</text>
<text transform="translate(866.2,835.9) scale(1,1.0)" font-size="29.2" font-weight="normal" font-style="normal" text-anchor="start" letter-spacing="0">NS</text>
<text transform="translate(840.2,867.6) scale(1.1,1)" font-size="30" font-weight="normal" font-style="normal" text-anchor="start" letter-spacing="0">p-value</text>
</svg>
</body></html>
